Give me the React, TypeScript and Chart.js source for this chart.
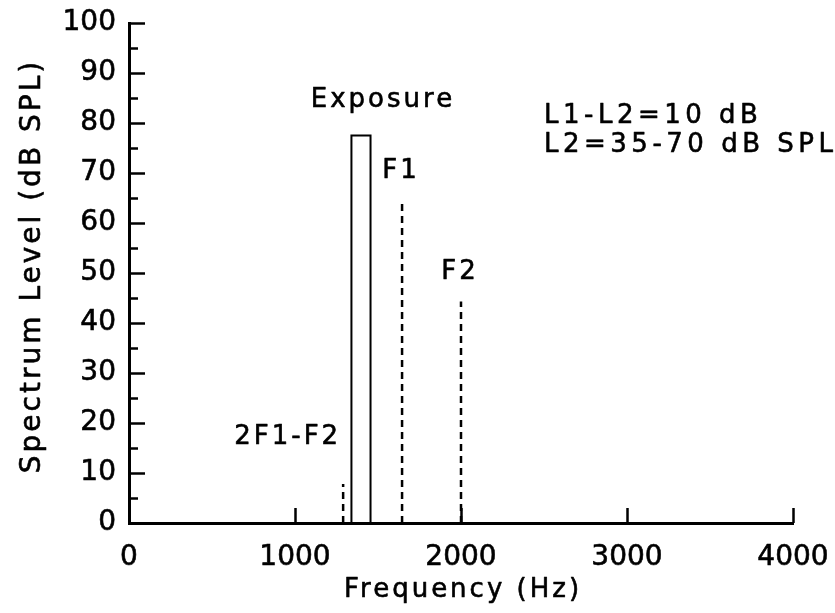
import { useEffect, useRef } from 'react';
import { Chart, registerables } from 'chart.js';

Chart.register(...registerables);

// Exposure band (outline of the narrow band of noise)
const exposureFreq = [1340, 1340, 1455, 1455];
const exposureLevel = [0, 77.5, 77.5, 0];

// Primary tones and distortion product
const toneNames = ['2F1-F2', 'F1', 'F2'];
const toneFreq = [1290, 1645, 2000];
const toneLevel = [7.8, 64.5, 44.3];

// Axes
const xMin = 0;
const xMax = 4000;
const xStep = 1000;
const yMin = 0;
const yMax = 100;
const yMinorStep = 5;
const yMajorStep = 10;

const xTitle = 'Frequency (Hz)';
const yTitle = 'Spectrum Level (dB SPL)';
const exposureLabel = 'Exposure';
const noteLines = ['L1-L2=10 dB', 'L2=35-70 dB SPL'];

const FONT = '"DejaVu Sans", "Liberation Sans", sans-serif';
const TEXT_STROKE = 0.6;

const overlayPlugin = {
  id: 'overlay',
  afterDraw(chart: any) {
    const { ctx } = chart;
    const xs = chart.scales.x;
    const ys = chart.scales.y;
    const left = xs.left;
    const bottom = ys.bottom;
    ctx.save();
    ctx.strokeStyle = '#000';
    ctx.fillStyle = '#000';
    ctx.lineWidth = 2.5;
    ctx.lineCap = 'butt';
    // inward ticks on y
    for (const t of ys.ticks) {
      if (t.value === yMin) continue;
      const py = Math.round(ys.getPixelForValue(t.value)) + 0.5;
      const len = t.value % yMajorStep === 0 ? 16 : 9;
      ctx.beginPath();
      ctx.moveTo(left, py);
      ctx.lineTo(left + len, py);
      ctx.stroke();
    }
    // inward ticks on x
    for (const t of xs.ticks) {
      if (t.value === xMin) continue;
      const px = Math.round(xs.getPixelForValue(t.value)) + 0.5;
      ctx.beginPath();
      ctx.moveTo(px, bottom);
      ctx.lineTo(px, bottom - 15);
      ctx.stroke();
    }

    const text = (s: string, x: number, y: number) => {
      ctx.fillText(s, x, y);
      ctx.strokeText(s, x, y);
    };

    ctx.lineWidth = TEXT_STROKE;
    ctx.lineJoin = 'round';
    ctx.letterSpacing = '3px';
    ctx.textBaseline = 'alphabetic';
    ctx.font = `26px ${FONT}`;

    // Exposure label
    const exCenter = xs.getPixelForValue((exposureFreq[0] + exposureFreq[2]) / 2);
    const exTop = ys.getPixelForValue(Math.max(...exposureLevel));
    ctx.textAlign = 'center';
    text(exposureLabel, exCenter + 22, exTop - 29);

    // tone labels
    toneNames.forEach((name, i) => {
      const px = xs.getPixelForValue(toneFreq[i]);
      const py = ys.getPixelForValue(toneLevel[i]);
      if (i === 0) {
        ctx.textAlign = 'right';
        text(name, px - 2, py - 40);
      } else {
        ctx.textAlign = 'center';
        text(name, px - 1, py - 23);
      }
    });

    // notes
    ctx.textAlign = 'left';
    ctx.letterSpacing = '4.5px';
    const nx = xs.getPixelForValue(2500);
    const ny = ys.getPixelForValue(80);
    noteLines.forEach((line, i) => {
      text(line, nx, ny + i * 29);
    });

    // axis titles
    ctx.letterSpacing = '3px';
    ctx.textAlign = 'center';
    text(xTitle, (xs.left + xs.right) / 2 + 2, 597);

    ctx.font = `28px ${FONT}`;
    ctx.translate(40, (ys.top + ys.bottom) / 2 - 7);
    ctx.rotate(-Math.PI / 2);
    text(yTitle, 0, 0);
    ctx.restore();
  },
};

export default function App() {
  const canvasRef = useRef<HTMLCanvasElement | null>(null);

  useEffect(() => {
    const canvas = canvasRef.current;
    if (!canvas) return;
    const exposureData = exposureFreq.map((f, i) => ({ x: f, y: exposureLevel[i] }));
    const toneSets = toneNames.map((name, i) => ({
      label: name,
      data: [
        { x: toneFreq[i], y: 0 },
        { x: toneFreq[i], y: toneLevel[i] },
      ],
      borderColor: '#000',
      borderWidth: 2.5,
      borderDash: [7, 5],
      pointRadius: 0,
      fill: false,
      tension: 0,
    }));

    const chart = new Chart(canvas, {
      type: 'line',
      data: {
        datasets: [
          {
            label: exposureLabel,
            data: exposureData,
            borderColor: '#000',
            borderWidth: 2,
            pointRadius: 0,
            fill: false,
            tension: 0,
          },
          ...toneSets,
        ] as any,
      },
      options: {
        animation: false,
        responsive: true,
        maintainAspectRatio: false,
        devicePixelRatio: 1,
        layout: { padding: { top: 23, right: 42, left: 0, bottom: 0 } },
        plugins: {
          legend: { display: false },
          tooltip: { enabled: false },
        },
        scales: {
          x: {
            type: 'linear',
            min: xMin,
            max: xMax,
            ticks: {
              stepSize: xStep,
              color: '#000',
              font: { family: FONT, size: 28 },
              padding: 18,
              maxRotation: 0,
              textStrokeColor: '#000',
              textStrokeWidth: TEXT_STROKE,
              callback: (v: any) => String(v),
            },
            grid: { drawOnChartArea: false, drawTicks: false },
            border: { display: true, color: '#000', width: 3 },
            afterFit: (scale: any) => {
              scale.height = 90;
              scale.paddingLeft = 0;
              scale.paddingRight = 0;
            },
          },
          y: {
            type: 'linear',
            min: yMin,
            max: yMax,
            ticks: {
              stepSize: yMinorStep,
              color: '#000',
              font: { family: FONT, size: 28 },
              padding: 13,
              autoSkip: false,
              textStrokeColor: '#000',
              textStrokeWidth: TEXT_STROKE,
              callback: (v: any) => (Number(v) % yMajorStep === 0 ? String(v) : ''),
            },
            grid: { drawOnChartArea: false, drawTicks: false },
            border: { display: true, color: '#000', width: 3 },
            afterFit: (scale: any) => {
              scale.width = 129;
              scale.paddingTop = 0;
              scale.paddingBottom = 0;
            },
          },
        },
      } as any,
      plugins: [overlayPlugin],
    });
    return () => chart.destroy();
  }, []);

  return (
    <div style={{ position: 'absolute', left: 0, top: 0, width: 835, height: 613, background: '#fff' }}>
      <canvas ref={canvasRef} />
    </div>
  );
}
